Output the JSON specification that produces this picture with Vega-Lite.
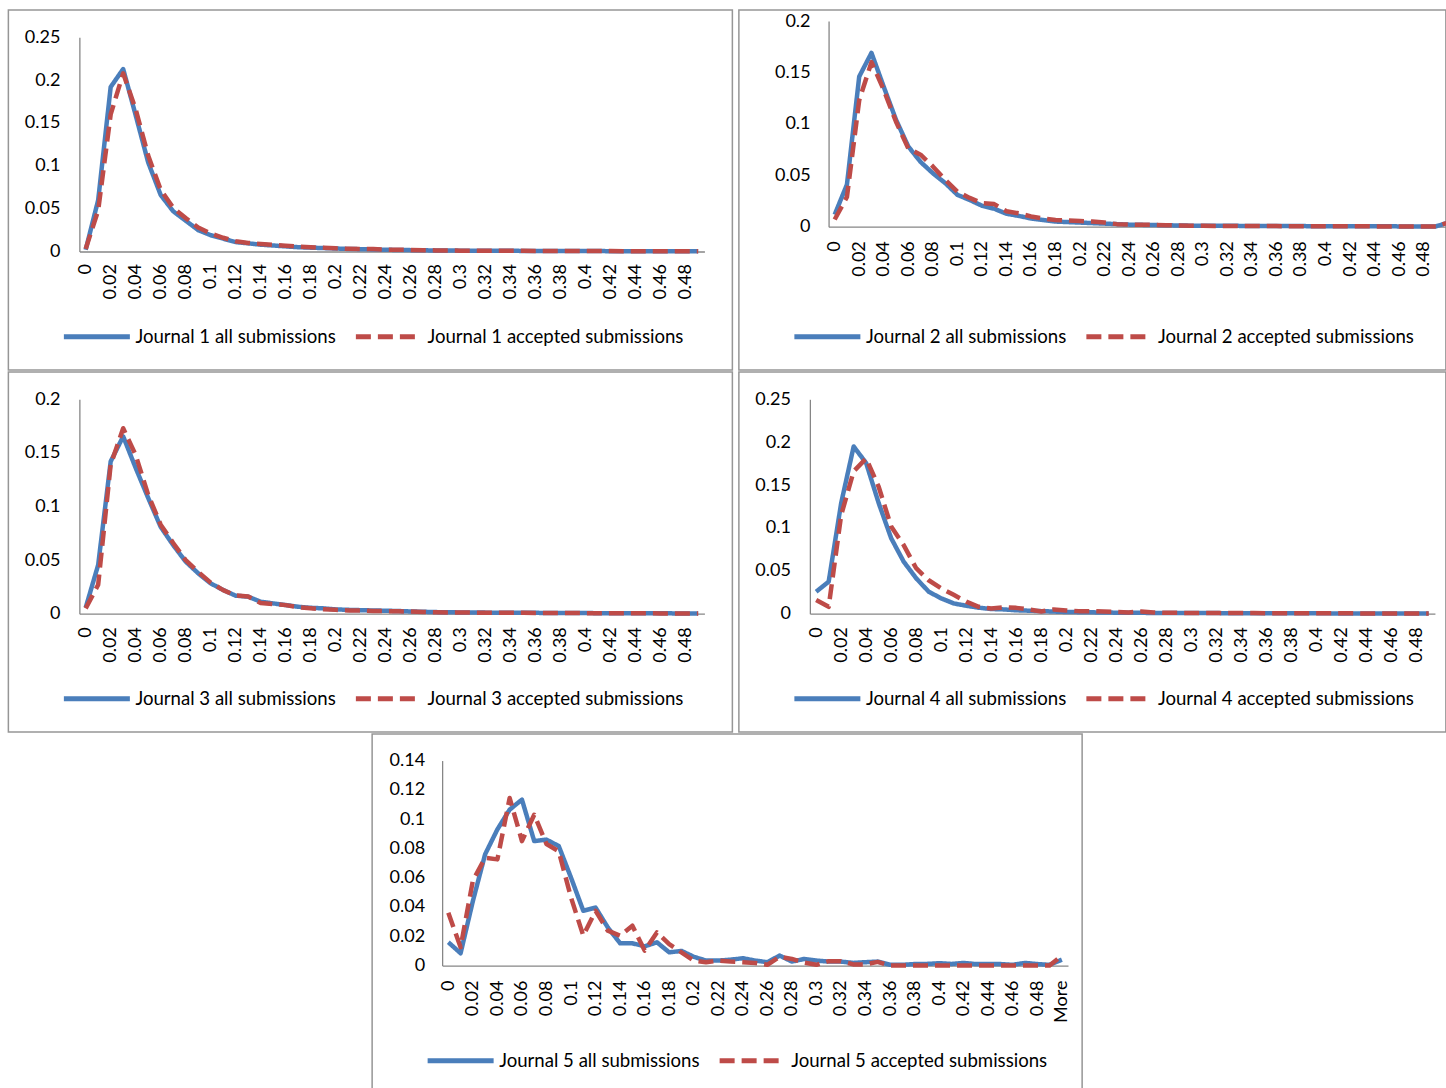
{
"$schema": "https://vega.github.io/schema/vega-lite/v6.json",
"background": "white",
"padding": {"left": 7, "top": 9, "right": 0, "bottom": 0},
"config": {
  "font": "Lato",
  "view": {"stroke": "#969696", "strokeWidth": 1.5},
  "axis": {"grid": false, "domain": true, "domainColor": "#868686", "domainWidth": 1.3, "ticks": false, "tickSize": 0, "labelFont": "Lato", "labelFontSize": 18, "labelColor": "#000000", "labelOverlap": false, "labelFlush": false, "labelBound": false, "minExtent": 0, "maxExtent": 2000},
  "legend": {"orient": "none", "direction": "horizontal", "legendX": 53, "legendY": 291, "symbolType": "stroke", "symbolSize": 4356, "symbolStrokeWidth": 5, "labelFont": "Lato", "labelFontSize": 18.6, "labelColor": "#000000", "labelLimit": 500, "labelOffset": 3, "columnPadding": 9, "padding": 0}
},
"datasets": {
  "j1_all": [{"bin":0,"share":0.002},{"bin":0.01,"share":0.06},{"bin":0.02,"share":0.192},{"bin":0.03,"share":0.213},{"bin":0.04,"share":0.159},{"bin":0.05,"share":0.104},{"bin":0.06,"share":0.066},{"bin":0.07,"share":0.047},{"bin":0.08,"share":0.036},{"bin":0.09,"share":0.025},{"bin":0.1,"share":0.019},{"bin":0.11,"share":0.015},{"bin":0.12,"share":0.011},{"bin":0.13,"share":0.0095},{"bin":0.14,"share":0.008},{"bin":0.15,"share":0.007},{"bin":0.16,"share":0.006},{"bin":0.17,"share":0.005},{"bin":0.18,"share":0.0045},{"bin":0.19,"share":0.004},{"bin":0.2,"share":0.0035},{"bin":0.21,"share":0.003},{"bin":0.22,"share":0.0027},{"bin":0.23,"share":0.0024},{"bin":0.24,"share":0.002},{"bin":0.25,"share":0.0018},{"bin":0.26,"share":0.0016},{"bin":0.27,"share":0.0014},{"bin":0.28,"share":0.0012},{"bin":0.29,"share":0.0011},{"bin":0.3,"share":0.001},{"bin":0.31,"share":0.0009},{"bin":0.32,"share":0.0009},{"bin":0.33,"share":0.0008},{"bin":0.34,"share":0.0008},{"bin":0.35,"share":0.0007},{"bin":0.36,"share":0.0007},{"bin":0.37,"share":0.0006},{"bin":0.38,"share":0.0006},{"bin":0.39,"share":0.0005},{"bin":0.4,"share":0.0005},{"bin":0.41,"share":0.0005},{"bin":0.42,"share":0.0004},{"bin":0.43,"share":0.0004},{"bin":0.44,"share":0.0004},{"bin":0.45,"share":0.0003},{"bin":0.46,"share":0.0003},{"bin":0.47,"share":0.0003},{"bin":0.48,"share":0.0003},{"bin":0.49,"share":0.0002}],
  "j1_acc": [{"bin":0,"share":0.003},{"bin":0.01,"share":0.048},{"bin":0.02,"share":0.16},{"bin":0.03,"share":0.208},{"bin":0.04,"share":0.166},{"bin":0.05,"share":0.112},{"bin":0.06,"share":0.072},{"bin":0.07,"share":0.051},{"bin":0.08,"share":0.039},{"bin":0.09,"share":0.028},{"bin":0.1,"share":0.021},{"bin":0.11,"share":0.016},{"bin":0.12,"share":0.012},{"bin":0.13,"share":0.01},{"bin":0.14,"share":0.0088},{"bin":0.15,"share":0.0078},{"bin":0.16,"share":0.0068},{"bin":0.17,"share":0.0058},{"bin":0.18,"share":0.005},{"bin":0.19,"share":0.0043},{"bin":0.2,"share":0.0037},{"bin":0.21,"share":0.0032},{"bin":0.22,"share":0.003},{"bin":0.23,"share":0.0028},{"bin":0.24,"share":0.0022},{"bin":0.25,"share":0.002},{"bin":0.26,"share":0.0018},{"bin":0.27,"share":0.0015},{"bin":0.28,"share":0.0013},{"bin":0.29,"share":0.0012},{"bin":0.3,"share":0.001},{"bin":0.31,"share":0.001},{"bin":0.32,"share":0.0009},{"bin":0.33,"share":0.0009},{"bin":0.34,"share":0.0008},{"bin":0.35,"share":0.0008},{"bin":0.36,"share":0.0007},{"bin":0.37,"share":0.0007},{"bin":0.38,"share":0.0006},{"bin":0.39,"share":0.0006},{"bin":0.4,"share":0.0005},{"bin":0.41,"share":0.0005},{"bin":0.42,"share":0.0005},{"bin":0.43,"share":0.0004},{"bin":0.44,"share":0.0004},{"bin":0.45,"share":0.0004},{"bin":0.46,"share":0.0003},{"bin":0.47,"share":0.0003},{"bin":0.48,"share":0.0003},{"bin":0.49,"share":0.0003}],
  "j2_all": [{"bin":0,"share":0.0117},{"bin":0.01,"share":0.041},{"bin":0.02,"share":0.146},{"bin":0.03,"share":0.169},{"bin":0.04,"share":0.136},{"bin":0.05,"share":0.104},{"bin":0.06,"share":0.078},{"bin":0.07,"share":0.063},{"bin":0.08,"share":0.052},{"bin":0.09,"share":0.0425},{"bin":0.1,"share":0.031},{"bin":0.11,"share":0.026},{"bin":0.12,"share":0.0204},{"bin":0.13,"share":0.0175},{"bin":0.14,"share":0.0126},{"bin":0.15,"share":0.0105},{"bin":0.16,"share":0.008},{"bin":0.17,"share":0.0065},{"bin":0.18,"share":0.005},{"bin":0.19,"share":0.0045},{"bin":0.2,"share":0.004},{"bin":0.21,"share":0.0035},{"bin":0.22,"share":0.003},{"bin":0.23,"share":0.0025},{"bin":0.24,"share":0.002},{"bin":0.25,"share":0.0018},{"bin":0.26,"share":0.0016},{"bin":0.27,"share":0.0014},{"bin":0.28,"share":0.0012},{"bin":0.29,"share":0.001},{"bin":0.3,"share":0.001},{"bin":0.31,"share":0.0009},{"bin":0.32,"share":0.0009},{"bin":0.33,"share":0.0008},{"bin":0.34,"share":0.0008},{"bin":0.35,"share":0.0007},{"bin":0.36,"share":0.0007},{"bin":0.37,"share":0.0006},{"bin":0.38,"share":0.0006},{"bin":0.39,"share":0.0005},{"bin":0.4,"share":0.0005},{"bin":0.41,"share":0.0005},{"bin":0.42,"share":0.0004},{"bin":0.43,"share":0.0004},{"bin":0.44,"share":0.0004},{"bin":0.45,"share":0.0004},{"bin":0.46,"share":0.0003},{"bin":0.47,"share":0.0003},{"bin":0.48,"share":0.0003},{"bin":0.49,"share":0.0003},{"bin":0.5,"share":0.004}],
  "j2_acc": [{"bin":0,"share":0.007},{"bin":0.01,"share":0.029},{"bin":0.02,"share":0.123},{"bin":0.03,"share":0.16},{"bin":0.04,"share":0.133},{"bin":0.05,"share":0.102},{"bin":0.06,"share":0.076},{"bin":0.07,"share":0.07},{"bin":0.08,"share":0.0586},{"bin":0.09,"share":0.0456},{"bin":0.1,"share":0.034},{"bin":0.11,"share":0.028},{"bin":0.12,"share":0.023},{"bin":0.13,"share":0.022},{"bin":0.14,"share":0.015},{"bin":0.15,"share":0.013},{"bin":0.16,"share":0.01},{"bin":0.17,"share":0.008},{"bin":0.18,"share":0.0065},{"bin":0.19,"share":0.006},{"bin":0.2,"share":0.0055},{"bin":0.21,"share":0.005},{"bin":0.22,"share":0.004},{"bin":0.23,"share":0.0025},{"bin":0.24,"share":0.002},{"bin":0.25,"share":0.0018},{"bin":0.26,"share":0.0018},{"bin":0.27,"share":0.0015},{"bin":0.28,"share":0.0012},{"bin":0.29,"share":0.001},{"bin":0.3,"share":0.0009},{"bin":0.31,"share":0.0008},{"bin":0.32,"share":0.0008},{"bin":0.33,"share":0.0007},{"bin":0.34,"share":0.0007},{"bin":0.35,"share":0.0006},{"bin":0.36,"share":0.0006},{"bin":0.37,"share":0.0005},{"bin":0.38,"share":0.0005},{"bin":0.39,"share":0.0005},{"bin":0.4,"share":0.0004},{"bin":0.41,"share":0.0004},{"bin":0.42,"share":0.0004},{"bin":0.43,"share":0.0004},{"bin":0.44,"share":0.0003},{"bin":0.45,"share":0.0003},{"bin":0.46,"share":0.0003},{"bin":0.47,"share":0.0003},{"bin":0.48,"share":0.0003},{"bin":0.49,"share":0.0003},{"bin":0.5,"share":0.004}],
  "j3_all": [{"bin":0,"share":0.0056},{"bin":0.01,"share":0.0455},{"bin":0.02,"share":0.142},{"bin":0.03,"share":0.1654},{"bin":0.04,"share":0.136},{"bin":0.05,"share":0.108},{"bin":0.06,"share":0.081},{"bin":0.07,"share":0.064},{"bin":0.08,"share":0.0486},{"bin":0.09,"share":0.0377},{"bin":0.1,"share":0.0283},{"bin":0.11,"share":0.0221},{"bin":0.12,"share":0.0168},{"bin":0.13,"share":0.0159},{"bin":0.14,"share":0.0112},{"bin":0.15,"share":0.0096},{"bin":0.16,"share":0.0081},{"bin":0.17,"share":0.0065},{"bin":0.18,"share":0.0055},{"bin":0.19,"share":0.005},{"bin":0.2,"share":0.004},{"bin":0.21,"share":0.0036},{"bin":0.22,"share":0.0033},{"bin":0.23,"share":0.003},{"bin":0.24,"share":0.0028},{"bin":0.25,"share":0.0025},{"bin":0.26,"share":0.0021},{"bin":0.27,"share":0.0018},{"bin":0.28,"share":0.0015},{"bin":0.29,"share":0.0013},{"bin":0.3,"share":0.0012},{"bin":0.31,"share":0.0011},{"bin":0.32,"share":0.001},{"bin":0.33,"share":0.0009},{"bin":0.34,"share":0.0009},{"bin":0.35,"share":0.0008},{"bin":0.36,"share":0.0008},{"bin":0.37,"share":0.0007},{"bin":0.38,"share":0.0007},{"bin":0.39,"share":0.0006},{"bin":0.4,"share":0.0006},{"bin":0.41,"share":0.0005},{"bin":0.42,"share":0.0005},{"bin":0.43,"share":0.0005},{"bin":0.44,"share":0.0004},{"bin":0.45,"share":0.0004},{"bin":0.46,"share":0.0004},{"bin":0.47,"share":0.0003},{"bin":0.48,"share":0.0003},{"bin":0.49,"share":0.0003}],
  "j3_acc": [{"bin":0,"share":0.005},{"bin":0.01,"share":0.027},{"bin":0.02,"share":0.139},{"bin":0.03,"share":0.173},{"bin":0.04,"share":0.148},{"bin":0.05,"share":0.111},{"bin":0.06,"share":0.083},{"bin":0.07,"share":0.066},{"bin":0.08,"share":0.05},{"bin":0.09,"share":0.039},{"bin":0.1,"share":0.029},{"bin":0.11,"share":0.022},{"bin":0.12,"share":0.017},{"bin":0.13,"share":0.016},{"bin":0.14,"share":0.01},{"bin":0.15,"share":0.009},{"bin":0.16,"share":0.008},{"bin":0.17,"share":0.006},{"bin":0.18,"share":0.005},{"bin":0.19,"share":0.0042},{"bin":0.2,"share":0.0036},{"bin":0.21,"share":0.003},{"bin":0.22,"share":0.003},{"bin":0.23,"share":0.0026},{"bin":0.24,"share":0.0024},{"bin":0.25,"share":0.0022},{"bin":0.26,"share":0.002},{"bin":0.27,"share":0.0017},{"bin":0.28,"share":0.0014},{"bin":0.29,"share":0.0012},{"bin":0.3,"share":0.0012},{"bin":0.31,"share":0.001},{"bin":0.32,"share":0.001},{"bin":0.33,"share":0.0009},{"bin":0.34,"share":0.0008},{"bin":0.35,"share":0.0008},{"bin":0.36,"share":0.0007},{"bin":0.37,"share":0.0007},{"bin":0.38,"share":0.0006},{"bin":0.39,"share":0.0006},{"bin":0.4,"share":0.0005},{"bin":0.41,"share":0.0005},{"bin":0.42,"share":0.0005},{"bin":0.43,"share":0.0004},{"bin":0.44,"share":0.0004},{"bin":0.45,"share":0.0004},{"bin":0.46,"share":0.0003},{"bin":0.47,"share":0.0003},{"bin":0.48,"share":0.0003},{"bin":0.49,"share":0.0003}],
  "j4_all": [{"bin":0,"share":0.0257},{"bin":0.01,"share":0.0374},{"bin":0.02,"share":0.129},{"bin":0.03,"share":0.195},{"bin":0.04,"share":0.1756},{"bin":0.05,"share":0.129},{"bin":0.06,"share":0.088},{"bin":0.07,"share":0.0607},{"bin":0.08,"share":0.0413},{"bin":0.09,"share":0.0257},{"bin":0.1,"share":0.0179},{"bin":0.11,"share":0.012},{"bin":0.12,"share":0.0093},{"bin":0.13,"share":0.007},{"bin":0.14,"share":0.0055},{"bin":0.15,"share":0.005},{"bin":0.16,"share":0.004},{"bin":0.17,"share":0.0035},{"bin":0.18,"share":0.003},{"bin":0.19,"share":0.0025},{"bin":0.2,"share":0.002},{"bin":0.21,"share":0.0018},{"bin":0.22,"share":0.0016},{"bin":0.23,"share":0.0014},{"bin":0.24,"share":0.0012},{"bin":0.25,"share":0.0011},{"bin":0.26,"share":0.001},{"bin":0.27,"share":0.0009},{"bin":0.28,"share":0.0009},{"bin":0.29,"share":0.0008},{"bin":0.3,"share":0.0008},{"bin":0.31,"share":0.0007},{"bin":0.32,"share":0.0007},{"bin":0.33,"share":0.0006},{"bin":0.34,"share":0.0006},{"bin":0.35,"share":0.0005},{"bin":0.36,"share":0.0005},{"bin":0.37,"share":0.0005},{"bin":0.38,"share":0.0004},{"bin":0.39,"share":0.0004},{"bin":0.4,"share":0.0004},{"bin":0.41,"share":0.0004},{"bin":0.42,"share":0.0003},{"bin":0.43,"share":0.0003},{"bin":0.44,"share":0.0003},{"bin":0.45,"share":0.0003},{"bin":0.46,"share":0.0003},{"bin":0.47,"share":0.0002},{"bin":0.48,"share":0.0002},{"bin":0.49,"share":0.0002}],
  "j4_acc": [{"bin":0,"share":0.016},{"bin":0.01,"share":0.008},{"bin":0.02,"share":0.115},{"bin":0.03,"share":0.166},{"bin":0.04,"share":0.181},{"bin":0.05,"share":0.148},{"bin":0.06,"share":0.1016},{"bin":0.07,"share":0.08},{"bin":0.08,"share":0.053},{"bin":0.09,"share":0.039},{"bin":0.1,"share":0.0296},{"bin":0.11,"share":0.022},{"bin":0.12,"share":0.014},{"bin":0.13,"share":0.008},{"bin":0.14,"share":0.006},{"bin":0.15,"share":0.0075},{"bin":0.16,"share":0.0068},{"bin":0.17,"share":0.005},{"bin":0.18,"share":0.0025},{"bin":0.19,"share":0.005},{"bin":0.2,"share":0.0038},{"bin":0.21,"share":0.003},{"bin":0.22,"share":0.003},{"bin":0.23,"share":0.0025},{"bin":0.24,"share":0.002},{"bin":0.25,"share":0.0015},{"bin":0.26,"share":0.0025},{"bin":0.27,"share":0.0015},{"bin":0.28,"share":0.001},{"bin":0.29,"share":0.001},{"bin":0.3,"share":0.0009},{"bin":0.31,"share":0.0009},{"bin":0.32,"share":0.0008},{"bin":0.33,"share":0.0008},{"bin":0.34,"share":0.0007},{"bin":0.35,"share":0.0007},{"bin":0.36,"share":0.0006},{"bin":0.37,"share":0.0006},{"bin":0.38,"share":0.0005},{"bin":0.39,"share":0.0005},{"bin":0.4,"share":0.0005},{"bin":0.41,"share":0.0004},{"bin":0.42,"share":0.0004},{"bin":0.43,"share":0.0004},{"bin":0.44,"share":0.0003},{"bin":0.45,"share":0.0003},{"bin":0.46,"share":0.0003},{"bin":0.47,"share":0.0003},{"bin":0.48,"share":0.0002},{"bin":0.49,"share":0.0002}],
  "j5_all": [{"bin":0,"share":0.0159},{"bin":0.01,"share":0.0084},{"bin":0.02,"share":0.044},{"bin":0.03,"share":0.076},{"bin":0.04,"share":0.093},{"bin":0.05,"share":0.1065},{"bin":0.06,"share":0.1133},{"bin":0.07,"share":0.085},{"bin":0.08,"share":0.086},{"bin":0.09,"share":0.0816},{"bin":0.1,"share":0.06},{"bin":0.11,"share":0.0374},{"bin":0.12,"share":0.0396},{"bin":0.13,"share":0.026},{"bin":0.14,"share":0.0152},{"bin":0.15,"share":0.0152},{"bin":0.16,"share":0.0131},{"bin":0.17,"share":0.0159},{"bin":0.18,"share":0.009},{"bin":0.19,"share":0.01},{"bin":0.2,"share":0.006},{"bin":0.21,"share":0.0034},{"bin":0.22,"share":0.0034},{"bin":0.23,"share":0.004},{"bin":0.24,"share":0.005},{"bin":0.25,"share":0.0034},{"bin":0.26,"share":0.0023},{"bin":0.27,"share":0.0068},{"bin":0.28,"share":0.0027},{"bin":0.29,"share":0.0045},{"bin":0.3,"share":0.0034},{"bin":0.31,"share":0.0027},{"bin":0.32,"share":0.0027},{"bin":0.33,"share":0.0018},{"bin":0.34,"share":0.0023},{"bin":0.35,"share":0.0027},{"bin":0.36,"share":0.0005},{"bin":0.37,"share":0.0005},{"bin":0.38,"share":0.001},{"bin":0.39,"share":0.0011},{"bin":0.4,"share":0.0016},{"bin":0.41,"share":0.0011},{"bin":0.42,"share":0.0018},{"bin":0.43,"share":0.001},{"bin":0.44,"share":0.001},{"bin":0.45,"share":0.001},{"bin":0.46,"share":0.0005},{"bin":0.47,"share":0.0018},{"bin":0.48,"share":0.001},{"bin":0.49,"share":0.0005},{"bin":0.5,"share":0.004}],
  "j5_acc": [{"bin":0,"share":0.036},{"bin":0.01,"share":0.0125},{"bin":0.02,"share":0.058},{"bin":0.03,"share":0.0736},{"bin":0.04,"share":0.0725},{"bin":0.05,"share":0.1144},{"bin":0.06,"share":0.085},{"bin":0.07,"share":0.103},{"bin":0.08,"share":0.083},{"bin":0.09,"share":0.078},{"bin":0.1,"share":0.0464},{"bin":0.11,"share":0.0204},{"bin":0.12,"share":0.0374},{"bin":0.13,"share":0.0238},{"bin":0.14,"share":0.0204},{"bin":0.15,"share":0.0272},{"bin":0.16,"share":0.0102},{"bin":0.17,"share":0.0226},{"bin":0.18,"share":0.0147},{"bin":0.19,"share":0.009},{"bin":0.2,"share":0.0034},{"bin":0.21,"share":0.0023},{"bin":0.22,"share":0.0034},{"bin":0.23,"share":0.0027},{"bin":0.24,"share":0.0023},{"bin":0.25,"share":0.0018},{"bin":0.26,"share":0.0005},{"bin":0.27,"share":0.006},{"bin":0.28,"share":0.0045},{"bin":0.29,"share":0.002},{"bin":0.3,"share":0.0005},{"bin":0.31,"share":0.003},{"bin":0.32,"share":0.003},{"bin":0.33,"share":0.0008},{"bin":0.34,"share":0.0008},{"bin":0.35,"share":0.0025},{"bin":0.36,"share":0},{"bin":0.37,"share":0},{"bin":0.38,"share":0},{"bin":0.39,"share":0},{"bin":0.4,"share":0},{"bin":0.41,"share":0},{"bin":0.42,"share":0},{"bin":0.43,"share":0},{"bin":0.44,"share":0},{"bin":0.45,"share":0},{"bin":0.46,"share":0},{"bin":0.47,"share":0},{"bin":0.48,"share":0},{"bin":0.49,"share":0},{"bin":0.5,"share":0.0068}]
},
"spacing": 0,
"center": true,
"resolve": {"scale": {"color": "independent", "strokeDash": "independent"}, "legend": {"color": "independent", "strokeDash": "independent"}},
"vconcat": [
 {"hconcat": [
  {"width": 724, "height": 360,
   "encoding": {
     "x": {"field": "bin", "type": "quantitative", "title": null, "scale": {"domain": [-0.06184, 0.51736], "nice": false, "zero": false}, "axis": {"values": [0,0.02,0.04,0.06,0.08,0.1,0.12,0.14,0.16,0.18,0.2,0.22,0.24,0.26,0.28,0.3,0.32,0.34,0.36,0.38,0.4,0.42,0.44,0.46,0.48], "format": "~g", "labelAngle": -90, "offset": -118.5, "labelPadding": 12, "domainDash": [625, 2000], "domainDashOffset": -71.05}},
     "y": {"field": "share", "type": "quantitative", "title": null, "scale": {"domain": [-0.1383, 0.28186], "nice": false, "zero": false}, "axis": {"values": [0,0.05,0.1,0.15,0.2,0.25], "format": "~g", "offset": -71, "labelPadding": 19.5, "domainDash": [214.2, 2000], "domainDashOffset": -118.5}}
   },
   "layer": [
     {"data": {"name": "j1_all"}, "mark": {"type": "line", "strokeWidth": 4.5, "strokeCap": "butt", "strokeJoin": "round"}, "encoding": {
        "color": {"datum": "Journal 1 all submissions", "type": "nominal", "scale": {"domain": ["Journal 1 all submissions", "Journal 1 accepted submissions"], "range": ["#4A7EBB", "#BE4B48"]}, "legend": {"title": null}},
        "strokeDash": {"datum": "Journal 1 all submissions", "type": "nominal", "scale": {"domain": ["Journal 1 all submissions", "Journal 1 accepted submissions"], "range": [[1,0],[15,7]]}, "legend": {"title": null}}}},
     {"data": {"name": "j1_acc"}, "mark": {"type": "line", "strokeWidth": 4.5, "strokeCap": "butt", "strokeJoin": "round"}, "encoding": {
        "color": {"datum": "Journal 1 accepted submissions", "type": "nominal", "scale": {"domain": ["Journal 1 all submissions", "Journal 1 accepted submissions"], "range": ["#4A7EBB", "#BE4B48"]}, "legend": {"title": null}},
        "strokeDash": {"datum": "Journal 1 accepted submissions", "type": "nominal", "scale": {"domain": ["Journal 1 all submissions", "Journal 1 accepted submissions"], "range": [[1,0],[15,7]]}, "legend": {"title": null}}}}
   ]},
  {"width": 707, "height": 360,
   "encoding": {
     "x": {"field": "bin", "type": "quantitative", "title": null, "scale": {"domain": [-0.07808, 0.49813], "nice": false, "zero": false}, "axis": {"values": [0,0.02,0.04,0.06,0.08,0.1,0.12,0.14,0.16,0.18,0.2,0.22,0.24,0.26,0.28,0.3,0.32,0.34,0.36,0.38,0.4,0.42,0.44,0.46,0.48], "format": "~g", "labelAngle": -90, "offset": -143.3, "labelPadding": 14, "domainDash": [700, 2000], "domainDashOffset": -89.67}},
     "y": {"field": "share", "type": "quantitative", "title": null, "scale": {"domain": [-0.13933, 0.2107], "nice": false, "zero": false}, "axis": {"values": [0,0.05,0.1,0.15,0.2], "format": "~g", "offset": -89.7, "labelPadding": 18.5, "domainDash": [205.7, 2000], "domainDashOffset": -143.3}}
   },
   "layer": [
     {"data": {"name": "j2_all"}, "mark": {"type": "line", "strokeWidth": 4.5, "strokeCap": "butt", "strokeJoin": "round", "clip": true}, "encoding": {
        "color": {"datum": "Journal 2 all submissions", "type": "nominal", "scale": {"domain": ["Journal 2 all submissions", "Journal 2 accepted submissions"], "range": ["#4A7EBB", "#BE4B48"]}, "legend": {"title": null}},
        "strokeDash": {"datum": "Journal 2 all submissions", "type": "nominal", "scale": {"domain": ["Journal 2 all submissions", "Journal 2 accepted submissions"], "range": [[1,0],[15,7]]}, "legend": {"title": null}}}},
     {"data": {"name": "j2_acc"}, "mark": {"type": "line", "strokeWidth": 4.5, "strokeCap": "butt", "strokeJoin": "round", "clip": true}, "encoding": {
        "color": {"datum": "Journal 2 accepted submissions", "type": "nominal", "scale": {"domain": ["Journal 2 all submissions", "Journal 2 accepted submissions"], "range": ["#4A7EBB", "#BE4B48"]}, "legend": {"title": null}},
        "strokeDash": {"datum": "Journal 2 accepted submissions", "type": "nominal", "scale": {"domain": ["Journal 2 all submissions", "Journal 2 accepted submissions"], "range": [[1,0],[15,7]]}, "legend": {"title": null}}}}
   ]}
 ], "spacing": 4.5, "resolve": {"scale": {"color": "independent", "strokeDash": "independent"}, "legend": {"color": "independent", "strokeDash": "independent"}}},
 {"hconcat": [
  {"width": 724, "height": 360,
   "encoding": {
     "x": {"field": "bin", "type": "quantitative", "title": null, "scale": {"domain": [-0.06184, 0.51736], "nice": false, "zero": false}, "axis": {"values": [0,0.02,0.04,0.06,0.08,0.1,0.12,0.14,0.16,0.18,0.2,0.22,0.24,0.26,0.28,0.3,0.32,0.34,0.36,0.38,0.4,0.42,0.44,0.46,0.48], "format": "~g", "labelAngle": -90, "offset": -118.3, "labelPadding": 13, "domainDash": [625, 2000], "domainDashOffset": -71.05}},
     "y": {"field": "share", "type": "quantitative", "title": null, "scale": {"domain": [-0.11035, 0.22547], "nice": false, "zero": false}, "axis": {"values": [0,0.05,0.1,0.15,0.2], "format": "~g", "offset": -71, "labelPadding": 19.5, "domainDash": [214.4, 2000], "domainDashOffset": -118.3}}
   },
   "layer": [
     {"data": {"name": "j3_all"}, "mark": {"type": "line", "strokeWidth": 4.5, "strokeCap": "butt", "strokeJoin": "round"}, "encoding": {
        "color": {"datum": "Journal 3 all submissions", "type": "nominal", "scale": {"domain": ["Journal 3 all submissions", "Journal 3 accepted submissions"], "range": ["#4A7EBB", "#BE4B48"]}, "legend": {"title": null}},
        "strokeDash": {"datum": "Journal 3 all submissions", "type": "nominal", "scale": {"domain": ["Journal 3 all submissions", "Journal 3 accepted submissions"], "range": [[1,0],[15,7]]}, "legend": {"title": null}}}},
     {"data": {"name": "j3_acc"}, "mark": {"type": "line", "strokeWidth": 4.5, "strokeCap": "butt", "strokeJoin": "round"}, "encoding": {
        "color": {"datum": "Journal 3 accepted submissions", "type": "nominal", "scale": {"domain": ["Journal 3 all submissions", "Journal 3 accepted submissions"], "range": ["#4A7EBB", "#BE4B48"]}, "legend": {"title": null}},
        "strokeDash": {"datum": "Journal 3 accepted submissions", "type": "nominal", "scale": {"domain": ["Journal 3 all submissions", "Journal 3 accepted submissions"], "range": [[1,0],[15,7]]}, "legend": {"title": null}}}}
   ]},
  {"width": 707, "height": 360,
   "encoding": {
     "x": {"field": "bin", "type": "quantitative", "title": null, "scale": {"domain": [-0.06184, 0.50376], "nice": false, "zero": false}, "axis": {"values": [0,0.02,0.04,0.06,0.08,0.1,0.12,0.14,0.16,0.18,0.2,0.22,0.24,0.26,0.28,0.3,0.32,0.34,0.36,0.38,0.4,0.42,0.44,0.46,0.48], "format": "~g", "labelAngle": -90, "offset": -118.3, "labelPadding": 13, "domainDash": [625, 2000], "domainDashOffset": -71.05}},
     "y": {"field": "share", "type": "quantitative", "title": null, "scale": {"domain": [-0.13794, 0.28183], "nice": false, "zero": false}, "axis": {"values": [0,0.05,0.1,0.15,0.2,0.25], "format": "~g", "offset": -71, "labelPadding": 19.5, "domainDash": [214.4, 2000], "domainDashOffset": -118.3}}
   },
   "layer": [
     {"data": {"name": "j4_all"}, "mark": {"type": "line", "strokeWidth": 4.5, "strokeCap": "butt", "strokeJoin": "round"}, "encoding": {
        "color": {"datum": "Journal 4 all submissions", "type": "nominal", "scale": {"domain": ["Journal 4 all submissions", "Journal 4 accepted submissions"], "range": ["#4A7EBB", "#BE4B48"]}, "legend": {"title": null}},
        "strokeDash": {"datum": "Journal 4 all submissions", "type": "nominal", "scale": {"domain": ["Journal 4 all submissions", "Journal 4 accepted submissions"], "range": [[1,0],[15,7]]}, "legend": {"title": null}}}},
     {"data": {"name": "j4_acc"}, "mark": {"type": "line", "strokeWidth": 4.5, "strokeCap": "butt", "strokeJoin": "round"}, "encoding": {
        "color": {"datum": "Journal 4 accepted submissions", "type": "nominal", "scale": {"domain": ["Journal 4 all submissions", "Journal 4 accepted submissions"], "range": ["#4A7EBB", "#BE4B48"]}, "legend": {"title": null}},
        "strokeDash": {"datum": "Journal 4 accepted submissions", "type": "nominal", "scale": {"domain": ["Journal 4 all submissions", "Journal 4 accepted submissions"], "range": [[1,0],[15,7]]}, "legend": {"title": null}}}}
   ]}
 ], "spacing": 4.5, "resolve": {"scale": {"color": "independent", "strokeDash": "independent"}, "legend": {"color": "independent", "strokeDash": "independent"}}},
 {"width": 710, "height": 355,
   "encoding": {
     "x": {"field": "bin", "type": "quantitative", "title": null, "scale": {"domain": [-0.0621, 0.51654], "nice": false, "zero": false}, "axis": {"values": [0,0.02,0.04,0.06,0.08,0.1,0.12,0.14,0.16,0.18,0.2,0.22,0.24,0.26,0.28,0.3,0.32,0.34,0.36,0.38,0.4,0.42,0.44,0.46,0.48,0.5], "format": "~g", "labelExpr": "datum.value > 0.495 ? 'More' : datum.label", "labelAngle": -90, "offset": -123.45, "labelPadding": 14.5, "domainDash": [625.8, 2000], "domainDashOffset": -70.07}},
     "y": {"field": "share", "type": "quantitative", "title": null, "scale": {"domain": [-0.08431, 0.15813], "nice": false, "zero": false}, "axis": {"values": [0,0.02,0.04,0.06,0.08,0.1,0.12,0.14], "format": "~g", "offset": -70, "labelPadding": 17.5, "domainDash": [205, 2000], "domainDashOffset": -123.45}}
   },
   "layer": [
     {"data": {"name": "j5_all"}, "mark": {"type": "line", "strokeWidth": 4.5, "strokeCap": "butt", "strokeJoin": "round"}, "encoding": {
        "color": {"datum": "Journal 5 all submissions", "type": "nominal", "scale": {"domain": ["Journal 5 all submissions", "Journal 5 accepted submissions"], "range": ["#4A7EBB", "#BE4B48"]}, "legend": {"title": null}},
        "strokeDash": {"datum": "Journal 5 all submissions", "type": "nominal", "scale": {"domain": ["Journal 5 all submissions", "Journal 5 accepted submissions"], "range": [[1,0],[15,7]]}, "legend": {"title": null}}}},
     {"data": {"name": "j5_acc"}, "mark": {"type": "line", "strokeWidth": 4.5, "strokeCap": "butt", "strokeJoin": "round"}, "encoding": {
        "color": {"datum": "Journal 5 accepted submissions", "type": "nominal", "scale": {"domain": ["Journal 5 all submissions", "Journal 5 accepted submissions"], "range": ["#4A7EBB", "#BE4B48"]}, "legend": {"title": null}},
        "strokeDash": {"datum": "Journal 5 accepted submissions", "type": "nominal", "scale": {"domain": ["Journal 5 all submissions", "Journal 5 accepted submissions"], "range": [[1,0],[15,7]]}, "legend": {"title": null}}}}
   ]}
]
}
